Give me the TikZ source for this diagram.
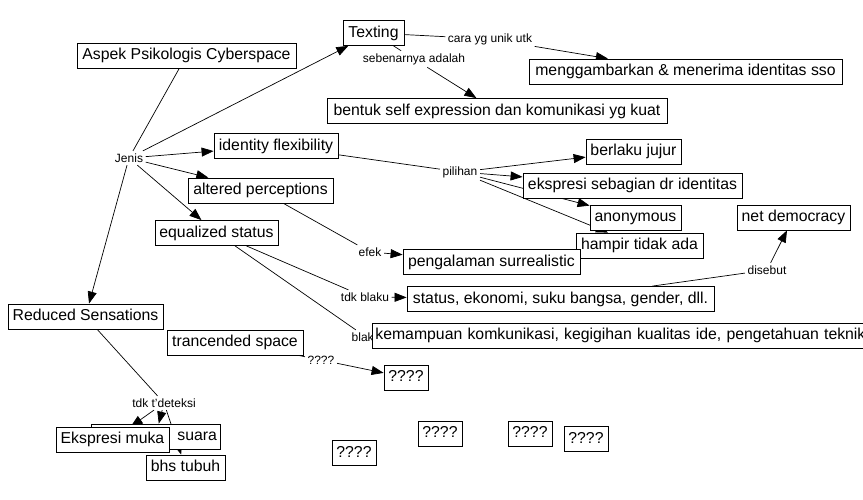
\documentclass[tikz,border=0pt]{standalone}
\usepackage{fontspec}
\setmainfont{Liberation Sans}
\usetikzlibrary{arrows.meta,backgrounds}
\begin{document}
\begin{tikzpicture}[x=1pt,y=-1pt,
  concept/.style={draw=black, line width=0.8pt, fill=white, font=\fontsize{15.8}{18}\selectfont,
    inner xsep=3pt, inner ysep=0pt, minimum height=25pt, text height=11.5pt, text depth=3pt},
  linkph/.style={font=\fontsize{12}{14}\selectfont, inner sep=2.5pt},
  conn/.style={line width=0.7pt, draw=black},
  arr/.style={conn, -{Triangle[length=12pt,width=9pt]}}
]
\useasboundingbox (0,0) rectangle (863,500);
\clip (0,0) rectangle (863,500);

% concepts
\node[concept, minimum width=61pt]  (texting) at (373.5,33) {Texting};
\node[concept, minimum width=219pt] (aspek) at (186.5,55.5) {Aspek Psikologis Cyberspace};
\node[concept, minimum width=340pt] (bentuk) at (497,111) {bentuk self expression dan komunikasi yg kuat};
\node[concept, minimum width=313pt] (gambar) at (685.5,71.5) {menggambarkan \& menerima identitas sso};
\node[concept, minimum width=124pt] (idflex) at (276,146) {identity flexibility};
\node[concept, minimum width=145pt] (altered) at (260.5,190.5) {altered perceptions};
\node[concept, minimum width=123pt] (equal) at (216.5,233) {equalized status};
\node[concept, minimum width=95pt]  (jujur) at (633.5,151.5) {berlaku jujur};
\node[concept, minimum width=219pt] (ekspresi) at (632.5,185.5) {ekspresi sebagian dr identitas};
\node[concept, minimum width=91pt]  (anon) at (635.5,217.5) {anonymous};
\node[concept, minimum width=113pt] (netdem) at (793.5,217.5) {net democracy};
\node[concept, minimum width=127pt] (hampir) at (639.5,245.5) {hampir tidak ada};
\node[concept, minimum width=177pt] (surreal) at (491.5,262) {pengalaman surrealistic};
\node[concept, minimum width=307pt] (status) at (560.5,299) {status, ekonomi, suku bangsa, gender, dll.};
\node[linkph, anchor=west] (blaku) at (349,337) {blaku};
\node[concept, anchor=west, text width=560pt, align=left] (kemampuan) at (372,335.5) {kemampuan komkunikasi, kegigihan kualitas ide, pengetahuan teknik};
\node[concept, minimum width=155pt] (reduced) at (85.5,316.5) {Reduced Sensations};
\node[concept, minimum width=136pt] (trans) at (235,342.5) {trancended space};
\node[concept, minimum width=44pt]  (q1) at (406,377.5) {????};
\node[concept, text width=123pt, align=right] (suara) at (155.5,436.5) {suara};
\node[concept, minimum width=113pt] (muka) at (112.5,439.5) {Ekspresi muka};
\node[concept, minimum width=79pt]  (tubuh) at (185.5,467.5) {bhs tubuh};
\node[concept, minimum width=44pt]  (q2) at (354,453) {????};
\node[concept, minimum width=44pt]  (q3) at (440,433.5) {????};
\node[concept, minimum width=44pt]  (q4) at (530,433.5) {????};
\node[concept, minimum width=44pt]  (q5) at (586,439) {????};

% linking phrases
\node[linkph] (jenis) at (129,158) {Jenis};
\node[linkph] (cara) at (490,39) {cara yg unik utk};
\node[linkph] (sebenarnya) at (414,59) {sebenarnya adalah};
\node[linkph] (pilihan) at (460,172) {pilihan};
\node[linkph] (efek) at (370,252) {efek};
\node[linkph] (tdkblaku) at (365,297) {tdk blaku};
\node[linkph] (disebut) at (767,270) {disebut};
\node[linkph] (qlink) at (321,360) {????};
\node[linkph] (deteksi) at (164,403) {tdk t'deteksi};

\begin{scope}[on background layer]
\fill[white] (0,0) rectangle (863,500);
\draw[conn] (aspek) -- (jenis);
\draw[arr] (jenis) -- (texting);
\draw[arr] (jenis) -- (idflex);
\draw[arr] (jenis) -- (altered);
\draw[arr] (jenis) -- (equal);
\draw[arr] (jenis) -- (reduced);
\draw[conn] (texting) -- (cara);
\draw[arr] (cara) -- (gambar);
\draw[conn] (texting) -- (sebenarnya);
\draw[arr] (sebenarnya) -- (bentuk);
\draw[conn] (idflex) -- (pilihan);
\draw[arr] (pilihan) -- (jujur);
\draw[arr] (pilihan) -- (ekspresi);
\draw[arr] (pilihan) -- (anon);
\draw[arr] (pilihan) -- (hampir);
\draw[conn] (altered) -- (efek);
\draw[arr] (efek) -- (surreal);
\draw[conn] (equal) -- (tdkblaku);
\draw[conn] (equal) -- (blaku);
\draw[arr] (tdkblaku) -- (status);
\draw[conn] (status) -- (disebut);
\draw[arr] (disebut) -- (netdem);
\draw[conn] (reduced) -- (deteksi);
\draw[arr] (deteksi) -- (muka);
\draw[arr] (deteksi) -- (suara);
\draw[arr] (deteksi) -- (tubuh);
\draw[conn] (trans) -- (qlink);
\draw[arr] (qlink) -- (q1);
\end{scope}
\end{tikzpicture}
\end{document}
